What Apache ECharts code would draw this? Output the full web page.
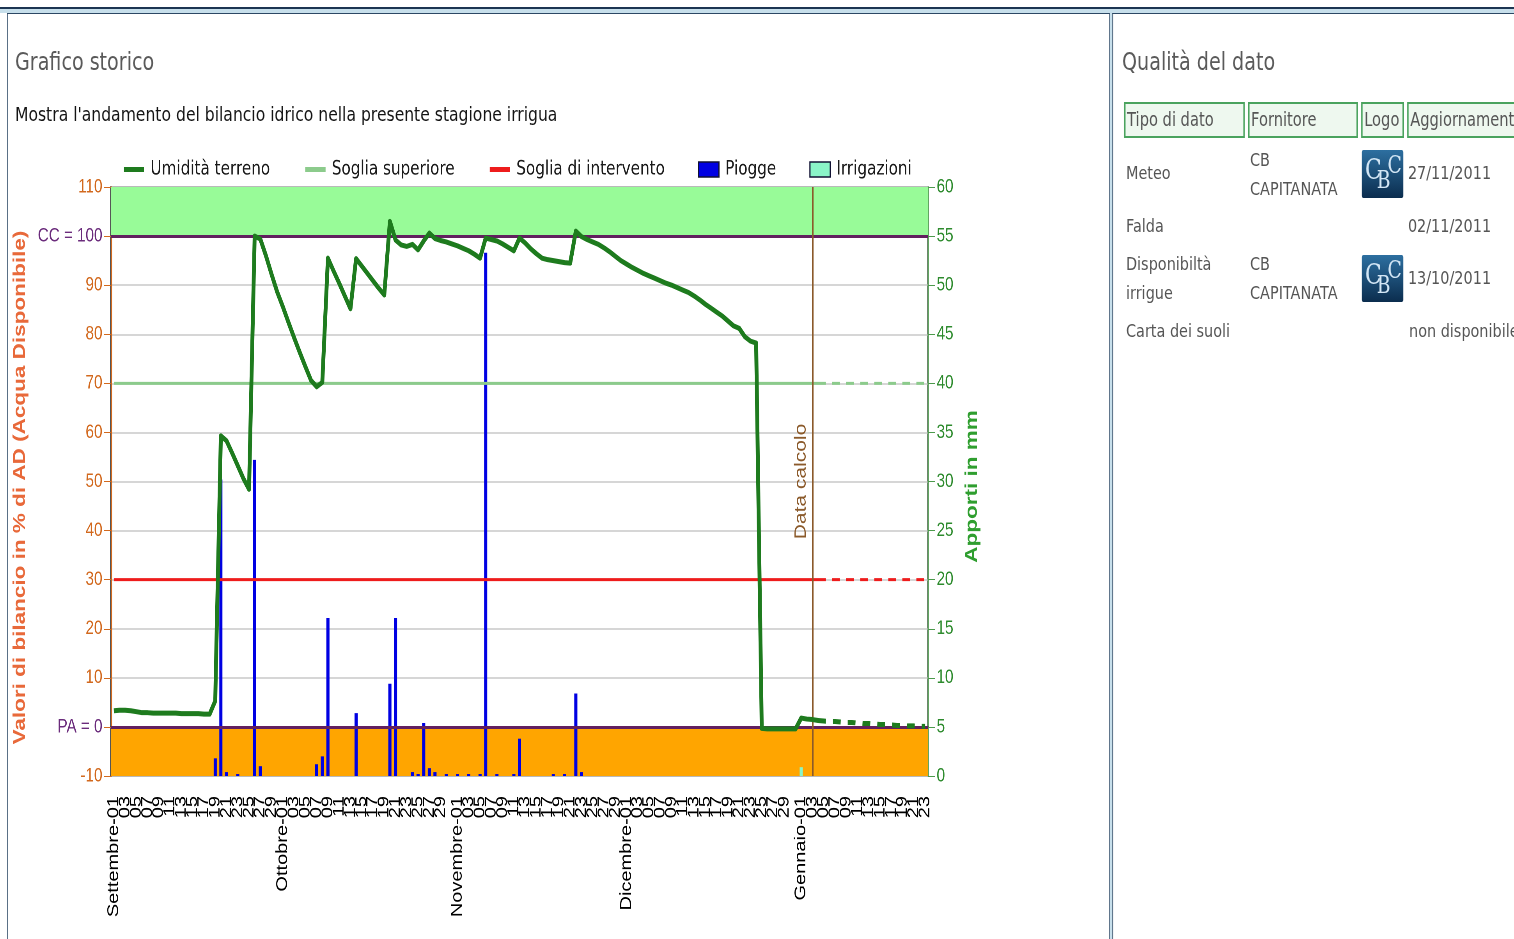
<!DOCTYPE html>
<html>
<head>
<meta charset="utf-8">
<script src="https://cdn.jsdelivr.net/npm/echarts@6/dist/echarts.min.js"></script>
<style>
html,body{margin:0;padding:0;background:#fff;overflow:hidden;width:1514px;height:939px;}
#page{position:absolute;left:0;top:0;width:1941px;height:939px;transform:scaleX(0.78);transform-origin:0 0;font-family:'DejaVu Sans',sans-serif;}
.abs{position:absolute;white-space:nowrap;}
.h{font-size:24.5px;line-height:24.5px;color:#5a5a5a;}
.th{position:absolute;top:102px;height:36px;box-sizing:border-box;border-style:solid;border-color:#4aa35e;border-width:2px 2.6px;background:#eef8ef;color:#555;font-size:18.8px;line-height:31px;padding-left:2px;white-space:nowrap;overflow:hidden;}
.td{position:absolute;font-size:18.5px;line-height:20px;color:#555;white-space:nowrap;}
.logo{position:absolute;left:1746px;width:52.6px;border-radius:2px;background:linear-gradient(#2d6fa0,#0b2d4e);overflow:hidden;font-family:'DejaVu Serif',serif;color:#d3e6f5;}
.logo span{position:absolute;line-height:1;}
#chart{position:absolute;left:0;top:0;width:1300px;height:939px;}
</style>
</head>
<body>
<div id="page">
  <div class="abs" style="left:0;top:7px;width:1941px;height:2px;background:#1c3552;"></div>
  <div class="abs" style="left:0;top:9px;width:1941px;height:4px;background:#c7dfeb;"></div>
  <div class="abs" style="left:9px;top:13px;width:1414px;height:930px;box-sizing:border-box;border-left:1.3px solid #2c4864;border-top:1px solid #2c4864;border-right:1.3px solid #2c4864;"></div>
  <div class="abs" style="left:1423px;top:13px;width:3.2px;height:930px;background:#c7dfeb;"></div>
  <div class="abs" style="left:1426px;top:13px;width:600px;height:930px;box-sizing:border-box;border-left:1.3px solid #2c4864;border-top:1px solid #2c4864;"></div>

  <div class="abs h" style="left:19.2px;top:50px;">Grafico storico</div>
  <div class="abs" style="left:19.2px;top:104px;font-size:20px;line-height:20px;color:#141414;">Mostra l'andamento del bilancio idrico nella presente stagione irrigua</div>

  <div class="abs h" style="left:1438.5px;top:50px;">Qualità del dato</div>
  <div class="th" style="left:1441px;width:155px;">Tipo di dato</div>
  <div class="th" style="left:1600px;width:141px;">Fornitore</div>
  <div class="th" style="left:1745px;width:55px;">Logo</div>
  <div class="th" style="left:1804px;width:200px;">Aggiornamento</div>

  <div class="td" style="left:1443.6px;top:163px;">Meteo</div>
  <div class="td" style="left:1443.6px;top:216px;">Falda</div>
  <div class="td" style="left:1443.6px;top:254px;">Disponibiltà</div>
  <div class="td" style="left:1443.6px;top:283px;">irrigue</div>
  <div class="td" style="left:1443.6px;top:321px;">Carta dei suoli</div>

  <div class="td" style="left:1602.6px;top:150px;">CB</div>
  <div class="td" style="left:1602.6px;top:179px;">CAPITANATA</div>
  <div class="td" style="left:1602.6px;top:254px;">CB</div>
  <div class="td" style="left:1602.6px;top:283px;">CAPITANATA</div>

  <div class="logo" style="top:150px;height:48px;"><span style="left:4px;top:6px;font-size:28px;">C</span><span style="left:19px;top:18px;font-size:24px;">B</span><span style="left:33px;top:3px;font-size:24px;">C</span></div>
  <div class="logo" style="top:255px;height:47px;"><span style="left:4px;top:6px;font-size:28px;">C</span><span style="left:19px;top:18px;font-size:24px;">B</span><span style="left:33px;top:3px;font-size:24px;">C</span></div>

  <div class="td" style="left:1805px;top:163px;">27/11/2011</div>
  <div class="td" style="left:1805px;top:216px;">02/11/2011</div>
  <div class="td" style="left:1805px;top:268px;">13/10/2011</div>
  <div class="td" style="left:1806.4px;top:321px;">non disponibile</div>

  <div id="chart"></div>
</div>
<script>
// ---- data ----
const mesi = [
  { nome: 'Settembre', anno: 2011, mese: 9,  giorni: 30 },
  { nome: 'Ottobre',   anno: 2011, mese: 10, giorni: 31 },
  { nome: 'Novembre',  anno: 2011, mese: 11, giorni: 30 },
  { nome: 'Dicembre',  anno: 2011, mese: 12, giorni: 31 },
  { nome: 'Gennaio',   anno: 2012, mese: 1,  giorni: 23 }
];
const legendNames = ['Umidità terreno', 'Soglia superiore', 'Soglia di intervento', 'Piogge', 'Irrigazioni'];

// Umidità terreno (% AD), daily from 2011-09-01 to 2012-01-04 (measured)
const umiditaMisurata = [
  3.3, 3.4, 3.4, 3.3, 3.1, 2.9, 2.9, 2.8, 2.8, 2.8,
  2.8, 2.8, 2.7, 2.7, 2.7, 2.7, 2.6, 2.6, 5.3, 59.3,
  58.3, 55.8, 53.2, 50.6, 48.4, 100.0, 99.4, 96.0, 92.2, 88.6,
  85.6, 82.4, 79.3, 76.3, 73.4, 70.6, 69.3, 70.2, 95.5, 92.9,
  90.4, 87.8, 85.2, 95.4, 93.9, 92.4, 90.9, 89.4, 88.0, 103.0,
  99.2, 98.2, 97.9, 98.3, 97.2, 99.0, 100.6, 99.5, 99.1, 98.8,
  98.4, 98.0, 97.5, 97.0, 96.3, 95.5, 99.6, 99.3, 99.0, 98.4,
  97.7, 97.0, 99.6, 98.6, 97.4, 96.4, 95.5, 95.2, 95.0, 94.8,
  94.6, 94.5, 101.0, 99.9, 99.3, 98.8, 98.3, 97.6, 96.8, 95.9,
  95.0, 94.3, 93.6, 93.0, 92.4, 91.9, 91.4, 90.9, 90.4, 90.0,
  89.5, 89.0, 88.5, 87.8, 87.0, 86.1, 85.3, 84.5, 83.7, 82.7,
  81.7, 81.2, 79.5, 78.6, 78.2, -0.3, -0.4, -0.4, -0.4, -0.4,
  -0.4, -0.4, 1.8, 1.6, 1.5, 1.3
];
// Umidità terreno, forecast from 2012-01-04 to 2012-01-23 (dashed)
const umiditaPrevista = [
  1.3, 1.2, 1.1, 1.1, 1.0, 0.9, 0.9, 0.8, 0.7, 0.7,
  0.6, 0.5, 0.5, 0.4, 0.3, 0.3, 0.2, 0.2, 0.1, 0.1
];
// Piogge (mm)
const pioggeDate = [
  '2011-09-19', '2011-09-20', '2011-09-21', '2011-09-23', '2011-09-26', '2011-09-27',
  '2011-10-07', '2011-10-08', '2011-10-09', '2011-10-14', '2011-10-20', '2011-10-21',
  '2011-10-24', '2011-10-25', '2011-10-26', '2011-10-27', '2011-10-28', '2011-10-30',
  '2011-11-01', '2011-11-03', '2011-11-05', '2011-11-06', '2011-11-08', '2011-11-11',
  '2011-11-12', '2011-11-18', '2011-11-20', '2011-11-22', '2011-11-23'
];
const pioggeMm = [
  1.8, 30.2, 0.4, 0.2, 32.2, 1.0,
  1.2, 2.0, 16.1, 6.4, 9.4, 16.1,
  0.4, 0.2, 5.4, 0.8, 0.4, 0.2,
  0.2, 0.2, 0.2, 53.3, 0.2, 0.2,
  3.8, 0.2, 0.2, 8.4, 0.4
];
// Irrigazioni (mm)
const irrigazioniDate = ['2012-01-01'];
const irrigazioniMm = [0.9];

const SOGLIA_SUPERIORE = 70;
const SOGLIA_INTERVENTO = 30;
const CC = 100;
const PA = 0;
const DATA_CALCOLO = '2012-01-03';
const INIZIO_PREVISIONE = '2012-01-04';

// ---- build ----
const pad = n => (n < 10 ? '0' : '') + n;
const categories = [];
const nomeMese = {};
mesi.forEach(m => {
  nomeMese[m.anno + '-' + pad(m.mese)] = m.nome;
  for (let d = 1; d <= m.giorni; d++) categories.push(m.anno + '-' + pad(m.mese) + '-' + pad(d));
});
const nPrev = categories.indexOf(INIZIO_PREVISIONE);
const umiditaSolid = categories.map((c, i) => i < umiditaMisurata.length ? umiditaMisurata[i] : null);
const umiditaDash = categories.map((c, i) => i >= nPrev ? umiditaPrevista[i - nPrev] : null);
const sogliaSolid = v => categories.map(c => c <= INIZIO_PREVISIONE ? v : null);
const sogliaDash = v => categories.map(c => c >= INIZIO_PREVISIONE ? v : null);
const piogge = pioggeDate.map((d, i) => [d, pioggeMm[i]]);
const irrigazioni = irrigazioniDate.map((d, i) => [d, irrigazioniMm[i]]);
const empty = categories.map(() => null);
const showDay = v => { const d = +v.slice(8); return d % 2 === 1 && d !== 31; };

const C_UMID = '#1E7B1E', C_SUP = '#8CCB8C', C_INT = '#EE1C1C', C_PIOG = '#0000E2', C_IRR = '#8AF5C8';
const C_PURPLE = '#62205F', C_BROWN = '#8B5A2B';
const FONT = 'Liberation Sans';

const chart = echarts.init(document.getElementById('chart'), null, { devicePixelRatio: 2 });
chart.setOption({
  animation: false,
  backgroundColor: 'transparent',
  grid: {
    left: 142.3, right: 110.3, top: 187, bottom: 163,
    show: true, borderColor: '#1a1a1a', borderWidth: 1.5, backgroundColor: 'transparent',
    outerBoundsMode: 'none'
  },
  legend: {
    left: 156.4, top: 159.5, padding: 0, itemGap: 42.5, itemWidth: 26, itemHeight: 15,
    textStyle: { fontFamily: 'DejaVu Sans', fontSize: 19.5, color: '#1a1a1a', padding: [0, 0, 0, 3] },
    data: [
      { name: legendNames[0], itemStyle: { opacity: 0 }, lineStyle: { width: 5 } },
      { name: legendNames[1], itemStyle: { opacity: 0 }, lineStyle: { width: 5 } },
      { name: legendNames[2], itemStyle: { opacity: 0 }, lineStyle: { width: 5 } },
      { name: legendNames[3], icon: 'rect', itemStyle: { borderColor: '#111133', borderWidth: 1.5 } },
      { name: legendNames[4], icon: 'rect', itemStyle: { borderColor: '#111133', borderWidth: 1.5 } }
    ]
  },
  xAxis: {
    type: 'category',
    data: categories,
    boundaryGap: true,
    axisLine: { show: true, lineStyle: { color: '#000', width: 1.5 } },
    axisTick: { show: true, interval: 0, alignWithLabel: true, length: 6, lineStyle: { color: '#000' } },
    axisLabel: {
      interval: 0,
      showMinLabel: true,
      showMaxLabel: true,
      hideOverlap: false,
      rotate: 90,
      margin: 20,
      color: '#000',
      fontFamily: FONT,
      fontSize: 20,
      lineHeight: 12,
      formatter: v => {
        if (!showDay(v)) return '';
        const d = v.slice(8);
        return d === '01' ? nomeMese[v.slice(0, 7)] + '-' + d : d;
      }
    },
    splitLine: { show: false }
  },
  yAxis: [
    {
      type: 'value', min: -10, max: 110, interval: 10, position: 'left',
      axisLine: { show: true, lineStyle: { color: '#D2691E', width: 1.5 } },
      axisTick: { show: true, length: 9, lineStyle: { color: '#D2691E' } },
      axisLabel: {
        margin: 11,
        showMinLabel: true,
        showMaxLabel: true,
        formatter: v => v === CC ? '{lim|CC = ' + CC + '}' : v === PA ? '{lim|PA = ' + PA + '}' : '{num|' + v + '}',
        rich: {
          lim: { color: '#6B2C7C', fontSize: 19.5, fontFamily: FONT },
          num: { color: '#D2691E', fontSize: 19.5, fontFamily: FONT }
        }
      },
      splitLine: { show: true, lineStyle: { color: '#C8C8C8', width: 1.5 } },
      name: 'Valori di bilancio in % di AD (Acqua Disponibile)',
      nameLocation: 'middle', nameRotate: 90, nameGap: 101,
      nameTextStyle: { color: '#E8693A', fontWeight: 'bold', fontSize: 22.5, fontFamily: FONT, padding: [0, 12, 0, 0] }
    },
    {
      type: 'value', min: 0, max: 60, interval: 5, position: 'right',
      axisLine: { show: true, lineStyle: { color: '#4C9A4C', width: 1.5 } },
      axisTick: { show: true, length: 9, lineStyle: { color: '#4C9A4C' } },
      axisLabel: { margin: 11, color: '#2E8B2E', fontSize: 19.5, fontFamily: FONT, showMinLabel: true, showMaxLabel: true },
      splitLine: { show: false },
      name: 'Apporti in mm',
      nameLocation: 'middle', nameRotate: 90, nameGap: 45,
      nameTextStyle: { color: '#2F9E2F', fontWeight: 'bold', fontSize: 22.5, fontFamily: FONT, padding: [0, 10, 0, 0] }
    }
  ],
  series: [
    {
      name: 'bande', type: 'line', data: empty, silent: true, z: 1, symbol: 'none',
      markArea: {
        silent: true,
        data: [
          [{ yAxis: CC, itemStyle: { color: '#98FB98', opacity: 1 } }, { yAxis: 110 }],
          [{ yAxis: -10, itemStyle: { color: '#FFA500', opacity: 1 } }, { yAxis: PA }]
        ]
      }
    },
    { name: legendNames[3], type: 'bar', yAxisIndex: 1, data: piogge, barWidth: 4, z: 2, itemStyle: { color: C_PIOG } },
    { name: legendNames[4], type: 'bar', yAxisIndex: 1, data: irrigazioni, barWidth: 4, barGap: '-100%', z: 2, itemStyle: { color: C_IRR } },
    { name: legendNames[1], type: 'line', data: sogliaSolid(SOGLIA_SUPERIORE), symbol: 'none', z: 3, lineStyle: { color: C_SUP, width: 3 }, itemStyle: { color: C_SUP } },
    { name: legendNames[1], type: 'line', data: sogliaDash(SOGLIA_SUPERIORE), symbol: 'none', z: 3, lineStyle: { color: C_SUP, width: 3, type: [10, 8] }, itemStyle: { color: C_SUP } },
    { name: legendNames[2], type: 'line', data: sogliaSolid(SOGLIA_INTERVENTO), symbol: 'none', z: 3, lineStyle: { color: C_INT, width: 3 }, itemStyle: { color: C_INT } },
    { name: legendNames[2], type: 'line', data: sogliaDash(SOGLIA_INTERVENTO), symbol: 'none', z: 3, lineStyle: { color: C_INT, width: 3, type: [10, 8] }, itemStyle: { color: C_INT } },
    {
      name: 'limiti', type: 'line', data: empty, silent: true, z: 4, symbol: 'none',
      markLine: {
        silent: true, symbol: 'none',
        label: { show: false },
        lineStyle: { color: C_PURPLE, width: 3, type: 'solid' },
        data: [
          { yAxis: CC },
          { yAxis: PA },
          {
            xAxis: DATA_CALCOLO,
            lineStyle: { color: C_BROWN, width: 2, type: 'solid' },
            label: { show: true, formatter: 'Data calcolo', position: 'insideMiddleTop', color: C_BROWN, fontFamily: FONT, fontSize: 21, distance: 4 }
          }
        ]
      }
    },
    { name: legendNames[0], type: 'line', data: umiditaSolid, symbol: 'none', z: 5, lineStyle: { color: C_UMID, width: 5, join: 'round' }, itemStyle: { color: C_UMID } },
    { name: legendNames[0], type: 'line', data: umiditaDash, symbol: 'none', z: 5, lineStyle: { color: C_UMID, width: 5, type: [10, 9] }, itemStyle: { color: C_UMID } }
  ]
});
</script>
</body>
</html>
